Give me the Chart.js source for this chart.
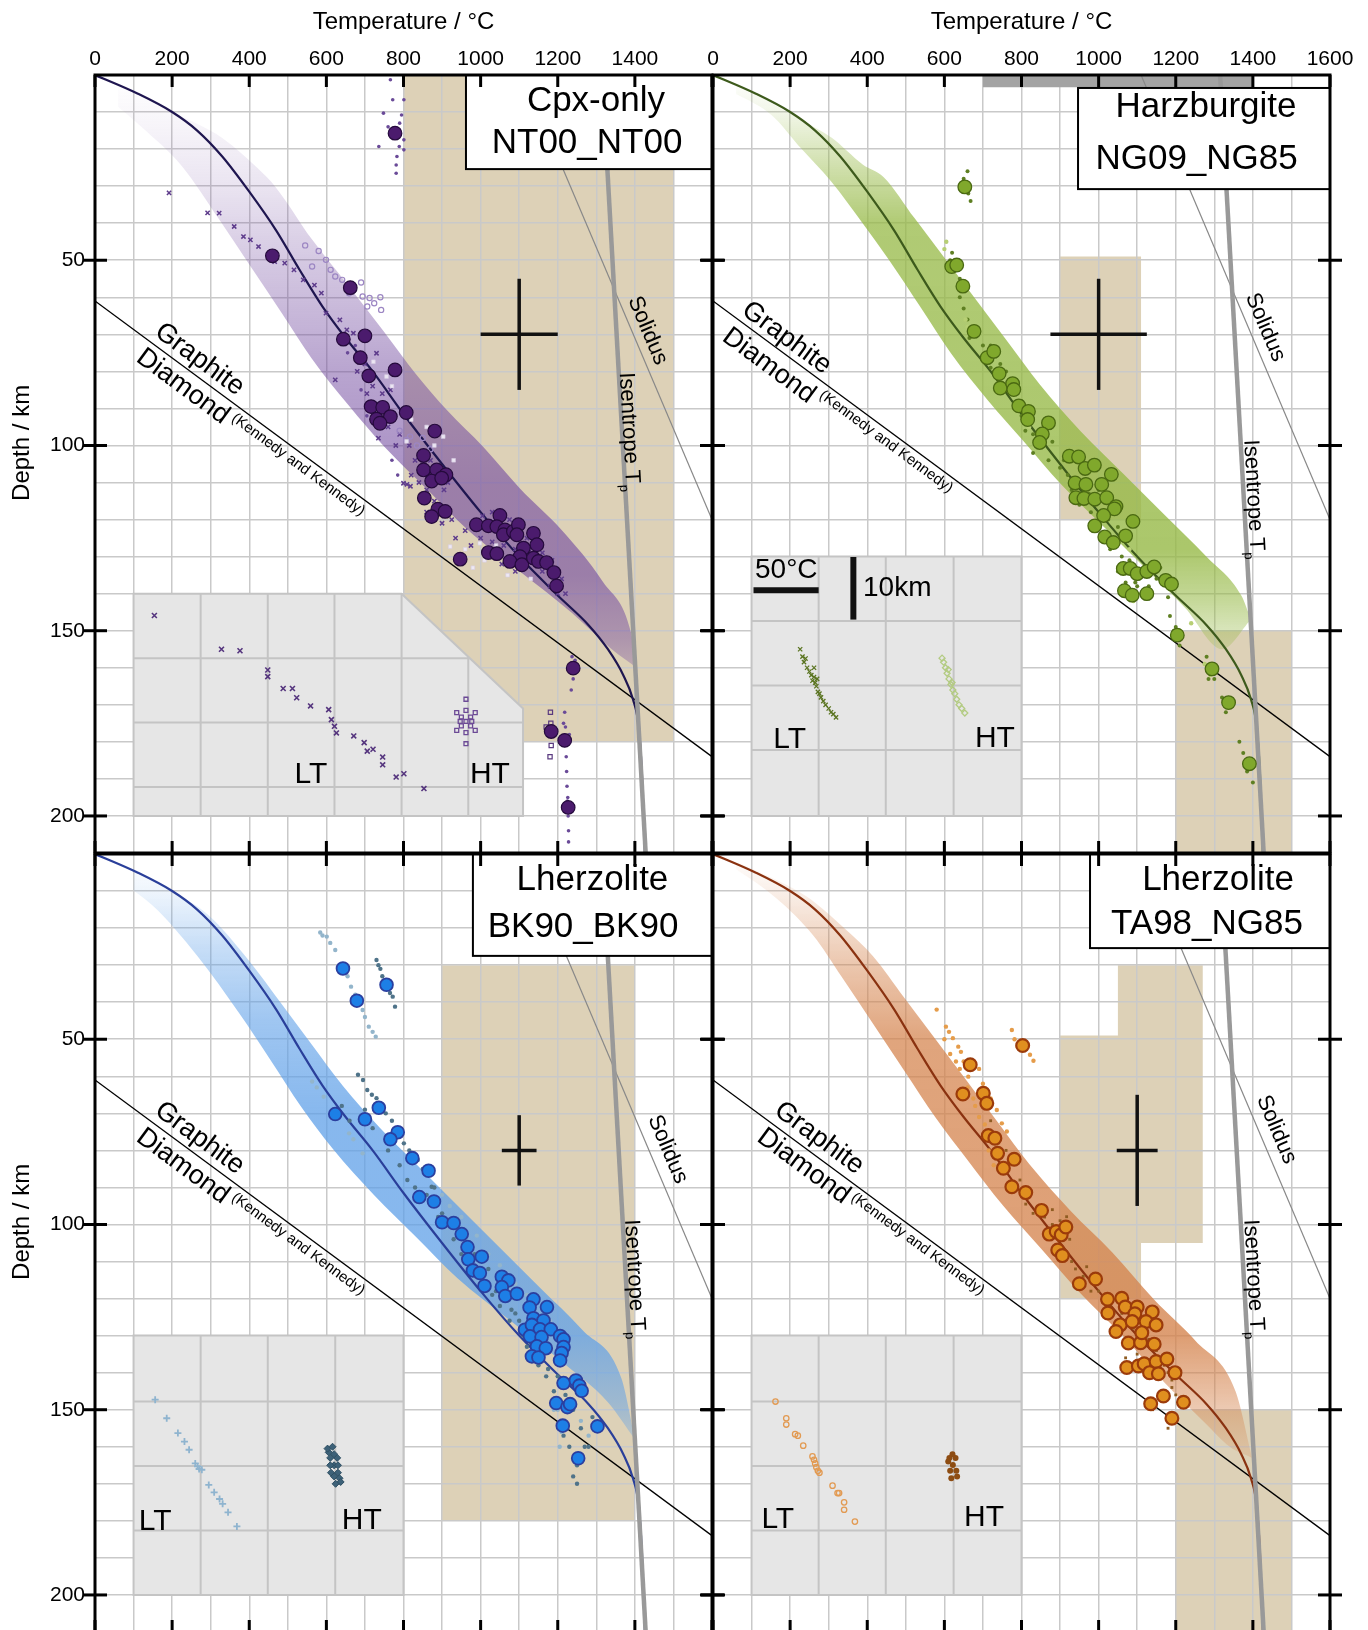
<!DOCTYPE html>
<html>
<head>
<meta charset="utf-8">
<title>Geotherms</title>
<script src="https://cdn.jsdelivr.net/npm/chart.js@4.4.1/dist/chart.umd.min.js"></script>
<style>
  html, body { margin: 0; padding: 0; background: #fff; overflow: hidden; }
  #page { position: relative; width: 1368px; height: 1630px; overflow: hidden; }
  #page canvas { position: absolute; left: 0; top: 0; }
</style>
</head>
<body>
<div id="page">
  <canvas id="nt" width="1368" height="1640"></canvas>
  <canvas id="ng" width="1368" height="1640"></canvas>
  <canvas id="bk" width="1368" height="1640"></canvas>
  <canvas id="ta" width="1368" height="1640"></canvas>
</div>
<script>
// all pairs are [temperature °C, depth km]
const FONT = '"Liberation Sans", Arial, Helvetica, sans-serif';
const TAN = '#ddd1b7';
const GRID = '#c9c9c9';

const tempLabels = [0, 200, 400, 600, 800, 1000, 1200, 1400, 1600];
const depthLabels = [50, 100, 150, 200];

// shared reference lines
const geotherm = [[0,0],[110,5],[200,10],[265,15],[330,22],[400,31.5],[470,42],[530,52.5],[590,62.5],[650,71],[720,80],[800,91.5],[900,105],[1000,118],[1100,130],[1200,140.5],[1280,148.5],[1330,155],[1370,162],[1395,168.5],[1410,176],[1418,188],[1426,210]];
const graphiteDiamond = [[0,61],[1600,184]];
const solidus = [[1110,0],[1600,120]];
const isentrope = [[1315,0],[1428,210]];

// geotherm family envelopes (hot side / cold side); both edges meet at the deep end
const bandHotNT = [[60,3],[200,10],[330,17],[420,25],[468,30.2],[562,44.3],[657,56.9],[751,69.5],[832,80.7],[913,90.5],[1007,100.4],[1102,111.6],[1210,122.8],[1317,136.8],[1390,150.5],[1405,160]];
const bandColdNT = [[30,6],[120,14],[226,24.7],[320,38.7],[401,51.3],[482,63.9],[562,76.5],[657,89.1],[751,100.4],[859,111.6],[967,122.8],[1102,134],[1237,145.2],[1340,155],[1405,160]];
const bandHotNG = [[60,2],[235,12.5],[307,16.9],[389,24.2],[442,27.5],[523,38.7],[604,49.9],[685,61.1],[766,72.3],[847,83.5],[954,96.2],[1062,107.4],[1170,118.6],[1278,129.8],[1370,140.5],[1395,147]];
const bandColdNG = [[40,4],[153,10.9],[230,20],[307,28.8],[388,40],[456,49.9],[537,62.5],[617,75.1],[712,87.7],[806,98.9],[900,110.2],[1008,121.4],[1116,132.6],[1224,143.8],[1320,155],[1395,147]];
const bandHotBK = [[100,4],[200,10],[293,16.4],[401,29],[482,40.2],[562,51.4],[643,62.6],[738,73.8],[832,83.6],[940,94.9],[1048,106.1],[1156,117.3],[1264,128.5],[1365,141.5],[1400,158]];
const bandColdBK = [[30,5],[150,14],[266,27.6],[374,43],[455,55.6],[535,68.3],[616,79.5],[724,92.1],[832,103.3],[940,114.5],[1075,125.8],[1210,137],[1330,148],[1400,158]];
const bandHotTA = [[60,2],[109,4.3],[243,11.5],[340,20],[415,27.6],[496,38.8],[577,50],[658,61.2],[739,72.5],[820,83.7],[927,96.3],[1035,107.5],[1143,120.2],[1251,131.4],[1355,145],[1398,163]];
const bandColdTA = [[30,2],[165,12],[260,22],[334,33.2],[415,45.8],[496,58.5],[577,71.1],[658,82.3],[752,94.9],[847,106.1],[954,118.7],[1062,130],[1170,142.6],[1278,153.8],[1340,160],[1398,163]];

// P-T constraint fields
const tanNT = [[800,0],[1500,0],[1500,180],[800,180]];
const tanNGa = [[900,49],[1110,49],[1110,120],[900,120]];
const tanNGb = [[1200,150],[1500,150],[1500,210],[1200,210]];
const tanBK = [[900,30],[1400,30],[1400,180],[900,180]];
const tanTAa = [[1050,30],[1270,30],[1270,105],[1110,105],[1110,120],[900,120],[900,49],[1050,49]];
const tanTAb = [[1200,150],[1500,150],[1500,210],[1200,210]];
const topBarNG = [[700,0],[1400,0],[1400,3.3],[700,3.3]];

// inset frames
const insetNT = [[100,140],[795,140],[1110,171],[1110,200],[100,200]];
const insetBox = [[100,130],[800,130],[800,200],[100,200]];

// Cpx-only NT00_NT00
const bigNT = [[778,15.7],[460,48.8],[662,57.4],[644,71.3],[700,70.4],[688,76.3],[778,79.6],[710,81.2],[716,89.5],[746,89.7],[730,92.9],[766,92.2],[807,91.1],[739,94],[881,96.1],[852,102.7],[852,106.6],[886,106.6],[910,107.9],[873,109.6],[899,108.8],[854,114.2],[889,117.2],[908,117.8],[873,119.2],[989,121.4],[1020,121.7],[1050,118.9],[1042,121.9],[1063,122.8],[1059,124.1],[1085,123.2],[1098,121.4],[1094,124.1],[1137,123.7],[1146,126.8],[1111,127.7],[1102,130],[1076,131.3],[1107,132.2],[1137,130.4],[1150,131.3],[1171,131.6],[1020,128.9],[1042,129.2],[947,130.7],[1190,134.3],[1197,137.9],[1240,160.1],[1183,177.2],[1218,179.6],[1227,197.7]];
const crossNT = [[192,31.8],[292,37.2],[322,37.3],[361,40.9],[385,43.6],[403,44.5],[424,46.3],[466,50.4],[492,50.8],[516,52.6],[540,55.3],[569,56.7],[587,58.9],[599,64.3],[635,66.1],[653,68.8],[670,69.7],[730,75.1],[766,85],[623,82.3],[700,78],[720,84],[745,86],[760,95],[790,97],[815,100],[830,104],[860,112],[880,115],[905,112],[925,120],[960,123],[1000,125],[1030,126],[1060,127],[1120,125],[1160,129],[1180,138],[1200,140],[840,110],[820,108],[800,110.2],[809,110.5],[818,111],[870,104],[895,106],[915,110],[860,118],[900,121],[935,125],[1005,119],[1030,118],[1075,120],[1090,128],[1125,128],[1160,134],[1185,131],[1210,136],[1220,140],[975,127],[1055,132],[1090,134],[680,80],[705,86],[735,98],[780,100]];
const openNT = [[563,51.7],[599,49.9],[623,54.4],[641,55.3],[659,58.9],[694,59.8],[706,62.5],[724,61.6],[742,63.4],[611,52.6],[670,58],[712,60.2],[545,46],[580,47.5],[690,56],[740,60],[808,98.5],[817,97.6],[835,100],[790,96],[850,98],[870,101]];
const paleNT = [[722,77.4],[756,81.4],[903,97.6],[808,98.9],[998,126.4],[921,127.3],[938,130.8],[860,95],[880,100],[980,133],[960,128],[1010,131],[770,84],[820,93],[930,104],[1040,127],[1070,135],[1130,136]];
const dotNT = [[766,1.3],[772,6.7],[801,6.7],[748,10.3],[795,10.8],[801,17.5],[736,19.3],[789,19.3],[783,22],[781,24.3],[781,26.5],[801,20.2],[760,14],[790,13],[1237,157],[1240,163],[1235,166],[1245,158],[1218,172],[1220,176],[1222,184],[1223,188],[1224,192],[1225,196],[1227,200],[1228,204],[1228,207],[1215,175],[1230,178],[1226,195],[640,72],[655,75],[675,73],[690,85],[705,92],[770,104],[785,108]];
const squaresNT = [[1181,172],[1182,175],[1180,178],[1183,181],[1180,184],[1186,177],[1170,176]];
const insetLtNT = [[154,145.9],[328,155],[376,155.4],[448,160.6],[448,162.4],[488,165.6],[512,165.6],[523,168.1],[559,170.3],[606,171.3],[613,174],[621,175.8],[626,177.6],[671,178.4],[698,180.2],[706,182.5],[721,182],[746,184.1],[746,186.2],[781,189.5],[801,188.6],[853,192.6]];
const insetHtNT = [[962,174.5],[950,173.3],[938,172.1],[974,175.7],[986,176.9],[950,175.7],[938,176.9],[974,173.3],[986,172.1],[962,171.5],[962,168.5],[962,177.5],[962,180.5],[947,174.5],[977,174.5]];

// Harzburgite NG09_NG85
const bigNG = [[653,30.2],[619,51.7],[632,51.3],[648,57],[677,69.2],[711,76.3],[728,74.6],[742,80.6],[745,84.5],[777,83.3],[780,84.9],[793,89.3],[818,90.8],[816,93],[870,93.9],[854,96.9],[847,99.2],[924,102.9],[948,103.1],[965,106.2],[989,105.3],[1033,107.8],[939,110.1],[967,110.5],[1008,110.5],[941,114.1],[962,114.3],[990,114.5],[1021,114.1],[1045,116.5],[1041,117.1],[1013,118.9],[1089,120.5],[990,121.7],[1016,124.7],[1070,124.4],[1038,126.2],[1064,133.2],[1082,133.2],[1100,134.6],[1125,134],[1144,132.8],[1174,136.4],[1189,137.4],[1067,139.2],[1087,140.4],[1125,140],[1204,151.2],[1294,160.3],[1337,169.4],[1391,185.9]];
const dotNG = [[620,48],[615,50],[610,52],[640,60],[650,63],[660,66],[640,55],[665,71],[700,77],[720,73],[745,78],[760,80],[790,86],[800,88],[810,96],[850,100],[830,102],[870,104],[900,106],[920,108],[975,113],[1000,112],[1025,120],[1050,122],[1060,130],[1080,131],[1095,137],[1110,140],[1130,138],[1160,133],[1185,146],[1200,149],[1210,154],[1280,157],[1300,163],[1320,168],[1330,172],[1365,180],[1375,183],[1385,188],[1400,191],[660,26],[650,28],[668,34],[662,32],[700,73],[720,79],[770,86],[800,92],[830,97],[880,99],[910,104],[930,112],[950,116],[980,118],[1000,120],[1030,128],[1050,134],[1070,137],[1100,138],[1150,136],[1180,141],[1195,150],[1285,163],[1330,170]];
const paleNG = [[600,47],[605,45],[655,66],[660,68],[820,95],[1030,125],[1060,126],[1080,128],[1090,142],[1240,148],[1275,159],[1290,162]];
const insetLtNG = [[226,155],[232,157],[236,158.5],[240,157.5],[244,160],[250,161],[255,162],[258,163.5],[262,162.5],[265,164],[268,165],[272,166.5],[276,167],[280,168],[286,169],[292,170],[300,171],[306,172],[312,172.5],[319,173.4],[262,160],[270,163]];
const insetHtNG = [[594,157.4],[598,158.5],[603,160],[607,161.5],[612,163],[617,164.5],[622,166],[627,167],[632,168.5],[638,170],[645,171],[653,172.2],[610,160.5],[620,164]];

// Lherzolite BK90_BK90
const bigBK = [[643,30.9],[679,39.6],[756,35.3],[623,70.2],[700,71.6],[736,68.5],[785,75.1],[766,77],[823,82.1],[865,85.5],[841,92.6],[879,93.8],[900,99.4],[930,99.6],[951,102.6],[966,106.1],[968,109.4],[980,112.4],[1003,108.7],[998,113.1],[1010,116.6],[1055,114.1],[1072,115.1],[1055,116.9],[1064,119.3],[1094,118.7],[1137,120.2],[1127,122.4],[1172,122.3],[1137,125.3],[1163,125.9],[1115,128.4],[1133,127.1],[1154,128.3],[1182,128.3],[1128,130.2],[1158,130.4],[1206,130.1],[1215,131],[1146,132.9],[1169,133.4],[1215,133.1],[1210,134.7],[1206,136.7],[1133,135.6],[1150,135.9],[1215,142.8],[1247,142.1],[1256,143.5],[1262,144.9],[1196,148.2],[1225,149.3],[1232,148.5],[1213,154.3],[1303,154.5],[1253,163.1]];
const darkBK = [[730,28.6],[735,30],[745,33],[754,34],[760,36],[765,37.5],[772,38.5],[778,41.2],[740,31],[682,59.6],[695,61],[706,63.7],[718,65],[730,65.9],[742,68],[754,70],[770,72],[801,78.1],[815,80],[837,82.6],[850,85],[873,89.8],[880,90],[890,94],[900,97],[920,100],[940,103],[985,108],[1020,112],[1040,118],[1080,123],[1100,126],[1120,133],[1150,138],[1170,141],[1190,145],[1230,160],[1250,165],[1270,160],[640,68],[660,72],[700,69],[720,74],[760,80],[790,84],[810,88],[830,90],[860,92],[890,98],[930,104],[950,108],[975,112],[1000,116],[1030,119],[1050,122],[1075,126],[1090,124],[1110,130],[1130,132],[1160,136],[1175,139],[1200,141],[1220,146],[1240,150],[1260,155],[1280,160],[1290,152],[1240,168],[1250,170],[1215,157]];
const lightBK = [[584,21.2],[590,22],[601,22.3],[610,24],[623,25.9],[640,30],[655,33],[664,35.8],[675,38],[694,42.1],[700,44],[710,46.6],[720,48],[728,49.3],[563,61.4],[575,63],[593,65.5],[659,75.4],[670,77],[694,80.8],[960,104],[1000,112],[1060,120],[1200,150],[1210,156],[1260,153],[1280,157],[900,92],[920,95],[950,98],[990,103],[1020,108],[1050,111],[1090,116],[1120,119],[1180,126],[1190,150],[1205,160]];
const insetLtBK = [[156,147.3],[186,152.3],[215,156.3],[232,158.6],[244,160.8],[260,164.5],[266,165.3],[270,166],[277,166.2],[295,170.3],[309,172.3],[323,174.1],[331,175.4],[345,177.7],[368,181.5]];
const insetHtBK = [[620,165],[610,163],[630,167],[612,167],[628,163],[606,161.5],[634,168.5],[620,162],[620,168],[610,165],[630,165],[603,160.5],[637,169.5],[616,160],[624,170]];

// Lherzolite TA98_NG85
const bigTA = [[803,51.7],[667,56.9],[648,64.8],[701,64.6],[710,67.3],[714,76],[731,76.7],[738,80.8],[781,82.4],[753,84.8],[775,89.8],[811,91.4],[852,96.2],[872,102.6],[890,101.9],[903,102.8],[915,100.7],[894,106.9],[906,108.4],[950,116],[992,114.7],[1023,120.2],[1024,123.9],[1060,119.9],[1069,122.3],[1100,122.3],[1094,124.1],[1139,123.6],[1056,127.1],[1087,126.2],[1123,126.2],[1149,127.1],[1045,128.9],[1077,132],[1109,131.9],[1112,129.2],[1144,132.3],[1073,138.6],[1103,138.2],[1118,137.6],[1149,137],[1177,136.3],[1132,140],[1155,140.3],[1198,140],[1168,146.3],[1135,148.4],[1220,148],[1190,152.3]];
const dotTA = [[604,46.6],[612,48],[622,49.7],[636,52],[643,53.4],[650,56],[662,60.1],[690,58],[700,62],[712,64.6],[720,66],[736,69.1],[749,72.7],[762,74.9],[775,47.5],[782,50],[790,52],[822,54.2],[831,55.8],[580,42],[640,58],[680,68],[705,73],[600,50],[615,54],[630,56],[660,63],[675,66],[690,71],[700,76],[715,80],[728,84]];
const brownTA = [[720,72],[740,78],[760,80],[796,88],[811,94.5],[830,97],[860,98],[880,100],[917,97.9],[930,110],[969,111.4],[990,115],[1000,118],[1030,122],[1060,124],[1090,128],[1120,132],[1150,134],[1170,138],[1190,142],[1200,146],[1140,150],[1180,155],[880,96],[900,99],[925,104],[940,112],[960,114],[980,118],[1010,121],[1040,124],[1070,126],[1100,129],[1130,131],[1160,136],[1180,140],[1190,144],[1210,147],[1100,135],[1070,136]];
const insetLtTA = [[162,147.8],[190,152.3],[190,154],[213,156.6],[220,157],[234,159.7],[258,162.6],[262,163.5],[265,164.5],[268,165.5],[272,166.5],[276,167],[310,170.5],[323,172.5],[327,172.5],[340,175],[340,177],[368,180.2]];
const insetHtTA = [[622,164.9],[613,163],[631,166.5],[615,166.5],[629,163],[610,164],[633,168],[621,162],[618,168.5]];

const pts = arr => arr.map(([x, y]) => ({ x, y }));

const panels = [
  {
    id: 'nt', area: [95, 75, 712, 853], xLabels: true, xMax: 1400, yLabels: true,
    names: ['Cpx-only', 'NT00_NT00'], box: [962, 0, 1600, 25.4], nameAt: [[1299, 7], [1276, 18.5]],
    lineColor: '#1f1650', rgb: '115,75,160',
    alpha: [[0, 0], [10, 0.04], [30, 0.15], [50, 0.3], [80, 0.5], [110, 0.62], [135, 0.62], [152, 0.45], [165, 0.22]],
    hot: bandHotNT, cold: bandColdNT, tan: [tanNT], bar: null,
    inset: insetNT, insetCols: [274, 448, 621, 795, 968], insetRows: [157.4, 174.8, 192.2],
    cross: [1100, 70, 100, 15],
    at: { graphite: [271, 76.8], diamond: [228, 84.1], kennedy: [527, 105.2], solidus: [1433, 69], isentrope: [1390, 96.2], lt: [560, 189], ht: [1024, 189] },
    marks: [
      { data: paleNT, style: 'rect', r: 2.6, fill: 'rgba(238,234,245,0.95)', stroke: '#d6cde2', w: 0.6 },
      { data: openNT, style: 'circle', r: 2.6, fill: 'rgba(0,0,0,0)', stroke: '#9c86c3', w: 1.2 },
      { data: crossNT, style: 'crossRot', r: 3, fill: '#5e3c8c', stroke: '#5e3c8c', w: 1.5 },
      { data: dotNT, style: 'circle', r: 1.8, fill: '#6a4a98', stroke: '#6a4a98', w: 0 },
      { data: squaresNT, style: 'rect', r: 3, fill: 'rgba(0,0,0,0)', stroke: '#5a3a80', w: 1.2 },
      { data: insetLtNT, style: 'crossRot', r: 3.5, fill: '#55357e', stroke: '#55357e', w: 1.6 },
      { data: insetHtNT, style: 'rect', r: 2.8, fill: 'rgba(0,0,0,0)', stroke: '#6c4a96', w: 1.3 },
      { data: bigNT, style: 'circle', r: 6.8, fill: '#4b1b6d', stroke: '#250a3c', w: 1.2, order: 0 }
    ]
  },
  {
    id: 'ng', area: [713, 75, 1330, 853], xLabels: true, xMax: 1600, yLabels: false,
    names: ['Harzburgite', 'NG09_NG85'], box: [946.6, 3.5, 1600, 30.8], nameAt: [[1278.5, 8.6], [1254, 22.7]],
    lineColor: '#3d5a1c', rgb: '150,185,70',
    alpha: [[0, 0], [10, 0.12], [25, 0.45], [40, 0.75], [128, 0.8], [142, 0.55], [155, 0.25]],
    hot: bandHotNG, cold: bandColdNG, tan: [tanNGa, tanNGb], bar: topBarNG,
    inset: insetBox, insetCols: [274, 448, 624], insetRows: [147.4, 164.8, 182.2],
    cross: [1000, 70, 125, 15], scaleBars: true,
    at: { graphite: [191, 71], diamond: [145, 78.5], kennedy: [449, 99], solidus: [1432, 68.1], isentrope: [1407, 114.4], lt: [199, 179.4], ht: [731, 179.2] },
    marks: [
      { data: paleNG, style: 'circle', r: 2.2, fill: '#b7cf74', stroke: '#b7cf74', w: 0 },
      { data: dotNG, style: 'circle', r: 2, fill: '#5e7f22', stroke: '#5e7f22', w: 0 },
      { data: insetLtNG, style: 'crossRot', r: 3, fill: '#5a7420', stroke: '#5a7420', w: 1.3 },
      { data: insetHtNG, style: 'rectRot', r: 3, fill: 'rgba(0,0,0,0)', stroke: '#b3cb82', w: 1.3 },
      { data: bigNG, style: 'circle', r: 6.8, fill: '#80a82c', stroke: '#4a6912', w: 1.3, order: 0 }
    ]
  },
  {
    id: 'bk', area: [95, 854, 712, 1632], xLabels: false, xMax: 1600, yLabels: true,
    names: ['Lherzolite', 'BK90_BK90'], box: [980, 0, 1600, 27.5], nameAt: [[1290, 7.2], [1265.6, 19.7]],
    lineColor: '#2a3f9a', rgb: '95,160,232',
    alpha: [[0, 0], [10, 0.1], [25, 0.35], [45, 0.6], [70, 0.75], [130, 0.75], [148, 0.5], [160, 0.25]],
    hot: bandHotBK, cold: bandColdBK, tan: [tanBK], bar: null,
    inset: insetBox, insetCols: [274, 448, 623], insetRows: [147.8, 165.2, 182.6],
    cross: [1100, 80, 45, 9.5],
    at: { graphite: [271, 76.7], diamond: [228, 84.3], kennedy: [527, 105.3], solidus: [1485, 79.7], isentrope: [1404, 114.6], lt: [156, 180.2], ht: [692, 180] },
    marks: [
      { data: lightBK, style: 'circle', r: 2.2, fill: '#93b5cb', stroke: '#93b5cb', w: 0 },
      { data: darkBK, style: 'circle', r: 2.2, fill: '#4f7389', stroke: '#4f7389', w: 0 },
      { data: insetLtBK, style: 'cross', r: 3.5, fill: '#8fb4cf', stroke: '#8fb4cf', w: 1.8 },
      { data: insetHtBK, style: 'rectRot', r: 3.5, fill: '#3d6178', stroke: '#2e4f63', w: 1 },
      { data: bigBK, style: 'circle', r: 6.4, fill: '#1d7fe6', stroke: '#2b3f9f', w: 1.8, order: 0 }
    ]
  },
  {
    id: 'ta', area: [713, 854, 1330, 1632], xLabels: false, xMax: 1600, yLabels: false,
    names: ['Lherzolite', 'TA98_NG85'], box: [977.7, 0, 1600, 25.4], nameAt: [[1309.6, 7.2], [1281, 18.9]],
    lineColor: '#8a3210', rgb: '212,130,75',
    alpha: [[0, 0], [10, 0.12], [30, 0.45], [50, 0.72], [130, 0.78], [146, 0.5], [160, 0.22]],
    hot: bandHotTA, cold: bandColdTA, tan: [tanTAa, tanTAb], bar: null,
    inset: insetBox, insetCols: [274, 448, 624], insetRows: [147.8, 165.2, 182.6],
    cross: [1100, 80, 53, 15],
    at: { graphite: [275, 76.7], diamond: [235, 84.3], kennedy: [531, 105.3], solidus: [1461, 74.4], isentrope: [1407, 114.6], lt: [168, 179.7], ht: [703, 179.2] },
    marks: [
      { data: dotTA, style: 'circle', r: 2.2, fill: '#e59c4a', stroke: '#e59c4a', w: 0 },
      { data: brownTA, style: 'rect', r: 2, fill: '#8f5c22', stroke: '#8f5c22', w: 0 },
      { data: insetLtTA, style: 'circle', r: 2.7, fill: 'rgba(0,0,0,0)', stroke: '#e29a52', w: 1.3 },
      { data: insetHtTA, style: 'circle', r: 3, fill: '#8d4c12', stroke: '#8d4c12', w: 0 },
      { data: bigTA, style: 'circle', r: 6.4, fill: '#e08f1f', stroke: '#9b3b0b', w: 2.2, order: 0 }
    ]
  }
];

function bandFill(chart, rgb, stops) {
  const { ctx, chartArea, scales } = chart;
  if (!chartArea) return 'rgba(0,0,0,0)';
  const y0 = scales.y.getPixelForValue(0), y1 = scales.y.getPixelForValue(210);
  const g = ctx.createLinearGradient(0, y0, 0, y1);
  stops.forEach(([d, a]) => g.addColorStop(d / 210, `rgba(${rgb},${a})`));
  g.addColorStop(1, `rgba(${rgb},0)`);
  return g;
}

function lineSet(data, color, width, order, extra) {
  return Object.assign({
    data: pts(data), showLine: true, borderColor: color, borderWidth: width,
    pointRadius: 0, fill: false, order
  }, extra || {});
}

function buildDatasets(p) {
  const ds = [
    lineSet(p.hot, 'rgba(0,0,0,0)', 1, 9, { cubicInterpolationMode: 'monotone' }),
    lineSet(p.cold, 'rgba(0,0,0,0)', 1, 9, {
      cubicInterpolationMode: 'monotone',
      fill: '-1',
      backgroundColor: c => bandFill(c.chart, p.rgb, p.alpha)
    }),
    lineSet(geotherm, p.lineColor, 2.2, 5, { cubicInterpolationMode: 'monotone' }),
    lineSet(graphiteDiamond, '#000', 1.3, 6),
    lineSet(solidus, '#888', 1.2, 6),
    lineSet(isentrope, '#999', 4.5, 4)
  ];
  p.marks.forEach(m => ds.push({
    data: pts(m.data), showLine: false,
    pointStyle: m.style, pointRadius: m.r,
    pointBackgroundColor: m.fill, pointBorderColor: m.stroke, pointBorderWidth: m.w,
    order: m.order === undefined ? 2 : m.order
  }));
  return ds;
}

function decorations(p) {
  const px = chart => [v => chart.scales.x.getPixelForValue(v), v => chart.scales.y.getPixelForValue(v)];
  const path = (ctx, X, Y, list) => {
    ctx.beginPath();
    list.forEach(([t, d], i) => (i ? ctx.lineTo(X(t), Y(d)) : ctx.moveTo(X(t), Y(d))));
    ctx.closePath();
  };
  const seg = (ctx, x1, y1, x2, y2) => {
    ctx.beginPath(); ctx.moveTo(x1, y1); ctx.lineTo(x2, y2); ctx.stroke();
  };
  const text = (ctx, s, x, y, ang, size, align) => {
    ctx.save();
    ctx.translate(x, y); ctx.rotate(ang);
    ctx.font = `${size}px ${FONT}`;
    ctx.textAlign = align || 'center'; ctx.textBaseline = 'middle';
    ctx.fillStyle = '#000';
    ctx.fillText(s, 0, 0);
    ctx.restore();
  };
  const slope = (X, Y, line) => Math.atan2(Y(line[1][1]) - Y(line[0][1]), X(line[1][0]) - X(line[0][0]));

  return {
    id: 'decorations',
    beforeDraw(chart) {
      const ctx = chart.ctx; const [X, Y] = px(chart);
      ctx.save();
      ctx.fillStyle = TAN;
      p.tan.forEach(r => { path(ctx, X, Y, r); ctx.fill(); });
      ctx.restore();
    },
    beforeDatasetsDraw(chart) {
      const ctx = chart.ctx; const [X, Y] = px(chart);
      ctx.save();
      if (p.bar) { ctx.fillStyle = '#a3a3a3'; path(ctx, X, Y, p.bar); ctx.fill(); }
      // inset panel with its own coarse grid
      path(ctx, X, Y, p.inset);
      ctx.fillStyle = '#e6e6e6'; ctx.fill();
      ctx.save();
      path(ctx, X, Y, p.inset); ctx.clip();
      ctx.strokeStyle = '#c4c4c4'; ctx.lineWidth = 2;
      p.insetCols.forEach(t => seg(ctx, X(t), Y(0), X(t), Y(210)));
      p.insetRows.forEach(d => seg(ctx, X(0), Y(d), X(1600), Y(d)));
      ctx.restore();
      path(ctx, X, Y, p.inset);
      ctx.strokeStyle = '#c4c4c4'; ctx.lineWidth = 2; ctx.stroke();
      ctx.restore();
    },
    afterDatasetsDraw(chart) {
      const ctx = chart.ctx; const a = chart.chartArea; const [X, Y] = px(chart);
      ctx.save();

      // uncertainty cross
      const [ct, cd, dt, dd] = p.cross;
      ctx.strokeStyle = '#111'; ctx.lineWidth = 3.5;
      seg(ctx, X(ct - dt), Y(cd), X(ct + dt), Y(cd));
      seg(ctx, X(ct), Y(cd - dd), X(ct), Y(cd + dd));

      // line labels
      const gd = slope(X, Y, graphiteDiamond);
      text(ctx, 'Graphite', X(p.at.graphite[0]), Y(p.at.graphite[1]), gd, 27);
      text(ctx, 'Diamond', X(p.at.diamond[0]), Y(p.at.diamond[1]), gd, 27);
      text(ctx, '(Kennedy and Kennedy)', X(p.at.kennedy[0]), Y(p.at.kennedy[1]), gd, 15);
      text(ctx, 'Solidus', X(p.at.solidus[0]), Y(p.at.solidus[1]), slope(X, Y, solidus), 22);

      const ia = slope(X, Y, isentrope);
      ctx.save();
      ctx.translate(X(p.at.isentrope[0]), Y(p.at.isentrope[1])); ctx.rotate(ia);
      ctx.fillStyle = '#000'; ctx.textBaseline = 'alphabetic'; ctx.textAlign = 'left';
      ctx.font = `22px ${FONT}`;
      const w = ctx.measureText('Isentrope T').width;
      ctx.font = `13px ${FONT}`;
      const ws = ctx.measureText('p').width;
      const x0 = -(w + ws) / 2;
      ctx.font = `22px ${FONT}`; ctx.fillText('Isentrope T', x0, 8);
      ctx.font = `13px ${FONT}`; ctx.fillText('p', x0 + w + 1, 14);
      ctx.restore();

      text(ctx, 'LT', X(p.at.lt[0]), Y(p.at.lt[1]), 0, 30);
      text(ctx, 'HT', X(p.at.ht[0]), Y(p.at.ht[1]), 0, 30);

      if (p.scaleBars) {
        ctx.strokeStyle = '#111'; ctx.lineWidth = 6;
        seg(ctx, X(105), Y(139.1), X(274), Y(139.1));
        seg(ctx, X(364), Y(130.1), X(364), Y(147));
        text(ctx, '50°C', X(190), Y(133.6), 0, 28);
        text(ctx, '10km', X(389), Y(138.5), 0, 28, 'left');
      }

      // name box
      const [t0, d0, t1, d1] = p.box;
      ctx.fillStyle = '#fff';
      ctx.fillRect(X(t0), Y(d0), X(t1) - X(t0), Y(d1) - Y(d0));
      ctx.strokeStyle = '#000'; ctx.lineWidth = 2;
      ctx.strokeRect(X(t0), Y(d0), X(t1) - X(t0), Y(d1) - Y(d0));
      text(ctx, p.names[0], X(p.nameAt[0][0]), Y(p.nameAt[0][1]), 0, 35);
      text(ctx, p.names[1], X(p.nameAt[1][0]), Y(p.nameAt[1][1]), 0, 35);

      // frame and inward ticks
      ctx.strokeStyle = '#000'; ctx.lineWidth = 3;
      ctx.strokeRect(a.left, a.top, a.right - a.left, a.bottom - a.top);
      tempLabels.forEach(t => {
        seg(ctx, X(t), a.top, X(t), a.top + 12);
        seg(ctx, X(t), a.bottom, X(t), a.bottom - 12);
      });
      depthLabels.forEach(d => {
        seg(ctx, a.left - 12, Y(d), a.left + 12, Y(d));
        seg(ctx, a.right - 12, Y(d), a.right + 12, Y(d));
      });

      if (p.yLabels) text(ctx, 'Depth / km', 22, Y(99.3), -Math.PI / 2, 24);
      ctx.restore();
    }
  };
}

Chart.defaults.font.family = FONT;
Chart.defaults.color = '#000';

panels.forEach(p => {
  const [l, t, r, b] = p.area;
  const yW = p.yLabels ? 95 : 0;
  const xH = p.xLabels ? 75 : 0;
  const zeroPad = s => { s.paddingLeft = 0; s.paddingRight = 0; s.paddingTop = 0; s.paddingBottom = 0; };
  new Chart(document.getElementById(p.id), {
    type: 'line',
    data: { datasets: buildDatasets(p) },
    options: {
      responsive: false,
      animation: false,
      devicePixelRatio: 1,
      events: [],
      layout: { autoPadding: false, padding: { left: l - yW, top: t - xH, right: 1368 - r, bottom: 1640 - b } },
      plugins: { legend: { display: false }, tooltip: { enabled: false } },
      scales: {
        x: {
          type: 'linear', position: 'top', min: 0, max: 1600,
          ticks: {
            display: p.xLabels, stepSize: 100, autoSkip: false, maxRotation: 0, padding: 3,
            font: { size: 21 }, color: '#000',
            callback: v => (tempLabels.includes(v) && v <= p.xMax ? String(v) : '')
          },
          grid: { color: GRID, lineWidth: 1.5, drawTicks: false },
          border: { display: false },
          title: { display: p.xLabels, text: 'Temperature / °C', font: { size: 24 }, color: '#000', padding: { top: 8, bottom: 0 } },
          afterFit: s => { s.height = xH; zeroPad(s); }
        },
        y: {
          type: 'linear', reverse: true, min: 0, max: 210,
          ticks: {
            display: p.yLabels, stepSize: 10, autoSkip: false, padding: 10,
            font: { size: 21 }, color: '#000',
            callback: v => (depthLabels.includes(v) ? String(v) : '')
          },
          grid: { color: GRID, lineWidth: 1.5, drawTicks: false },
          border: { display: false },
          afterFit: s => { s.width = yW; zeroPad(s); }
        }
      }
    },
    plugins: [decorations(p)]
  });
});
</script>
</body>
</html>
